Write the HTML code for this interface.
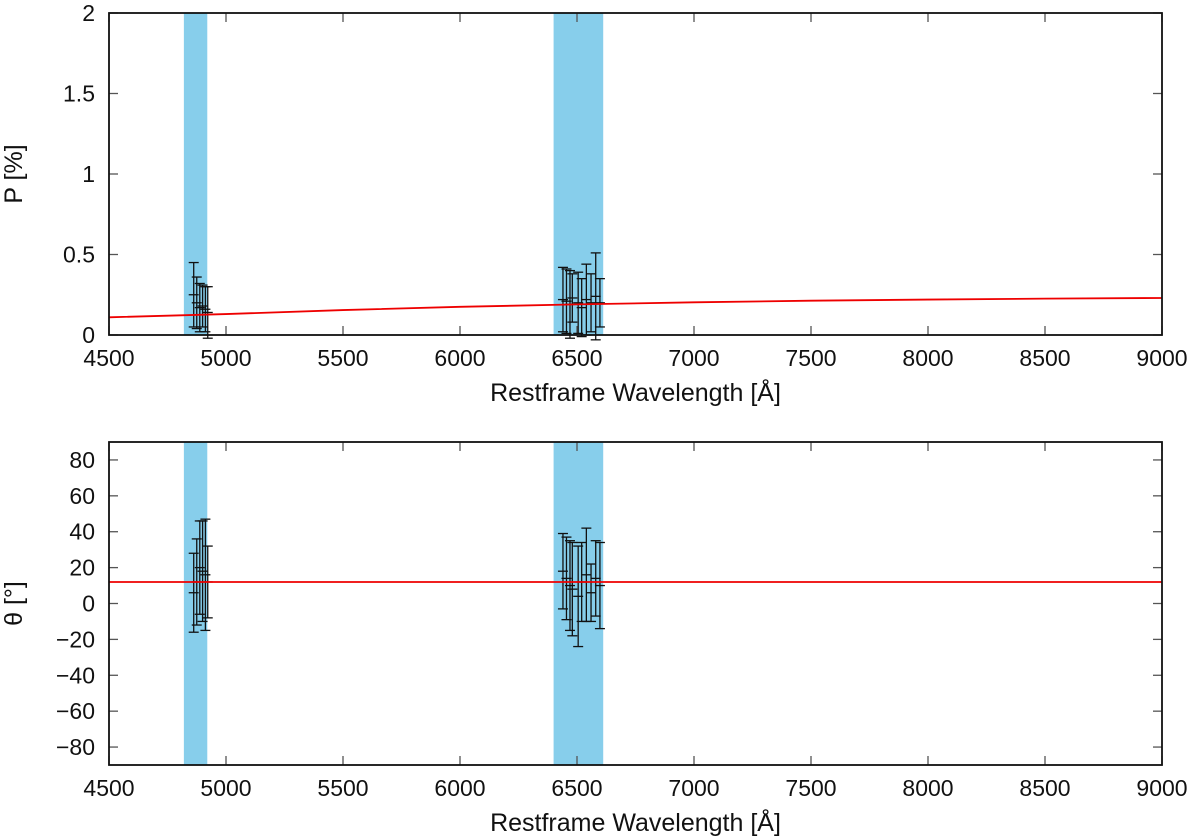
<!DOCTYPE html>
<html><head><meta charset="utf-8"><style>
html,body{margin:0;padding:0;background:#fff;}
svg{display:block;font-family:"Liberation Sans",sans-serif;}
</style></head><body>
<svg id="chart" width="1200" height="839" viewBox="0 0 1200 839"></svg>
<script>
const bands = [[4820,4920],[6400,6612]];
const lambdas = [4862,4875,4888,4900,4912,4922,6440,6455,6470,6480,6505,6520,6540,6560,6580,6598];
const pVals   = [0.25,0.20,0.17,0.18,0.16,0.14,0.22,0.21,0.19,0.23,0.20,0.17,0.22,0.20,0.24,0.20];
const pErrs   = [0.20,0.16,0.15,0.13,0.14,0.16,0.20,0.20,0.21,0.15,0.19,0.18,0.22,0.18,0.27,0.15];
const thVals  = [6,12,20,18,16,12,18,14,10,8,4,12,16,6,14,10];
const thErrs  = [22,24,26,28,31,20,21,23,25,26,28,22,26,16,21,24];
const fitLambda = [4500,5000,5500,6000,6500,7000,7500,8000,8500,9000];
const fitP = [0.11,0.13,0.155,0.175,0.19,0.203,0.213,0.22,0.226,0.23];
const fitTheta = 12;
const xTicks = [4500,5000,5500,6000,6500,7000,7500,8000,8500,9000];
const pTicks = [0,0.5,1,1.5,2];
const pTickLabels = ["0","0.5","1","1.5","2"];
const thTicks = [-80,-60,-40,-20,0,20,40,60,80];
const thTickLabels = ["\u221280","\u221260","\u221240","\u221220","0","20","40","60","80"];

const NS="http://www.w3.org/2000/svg";
const svg=document.getElementById('chart');
const L=109,R=1162;
const xs=v=>L+(v-4500)/(9000-4500)*(R-L);
function mk(tag,attrs,parent){const e=document.createElementNS(NS,tag);for(const k in attrs)e.setAttribute(k,attrs[k]);(parent||svg).appendChild(e);return e;}

function panel(name,top,bot,ymin,ymax,ticks,tickLabels,vals,errs,ylabel,fitFn){
  const ys=v=>bot-(v-ymin)/(ymax-ymin)*(bot-top);
  const g=mk('g',{});
  
  
  bands.forEach((b,i)=>{
    const r=mk('rect',{x:xs(b[0]),y:top,width:xs(b[1])-xs(b[0]),height:bot-top,fill:'#87ceeb'},g);
    
    
  });
  xTicks.forEach(t=>{
    const x=xs(t);
    mk('line',{x1:x,y1:bot,x2:x,y2:bot-9,stroke:'#555','stroke-width':1.3},g);
    mk('line',{x1:x,y1:top,x2:x,y2:top+9,stroke:'#555','stroke-width':1.3},g);
    const tx=mk('text',{x:x,y:bot+31,'font-size':23,'text-anchor':'middle',fill:'#111'},g);
    tx.textContent=t;
    
    
  });
  ticks.forEach((t,i)=>{
    const y=ys(t);
    mk('line',{x1:L,y1:y,x2:L+9,y2:y,stroke:'#555','stroke-width':1.3},g);
    mk('line',{x1:R,y1:y,x2:R-9,y2:y,stroke:'#555','stroke-width':1.3},g);
    const tx=mk('text',{x:L-14,y:y+8,'font-size':23,'text-anchor':'end',fill:'#111'},g);
    tx.textContent=tickLabels[i];
    
    
  });
  lambdas.forEach((lm,i)=>{
    const x=xs(lm),y1=ys(vals[i]+errs[i]),y2=ys(vals[i]-errs[i]);
    const eg=mk('g',{stroke:'#111','stroke-width':1.3},g);
    
    
    mk('line',{x1:x,y1:y1,x2:x,y2:y2},eg);
    mk('line',{x1:x-5,y1:y1,x2:x+5,y2:y1},eg);
    mk('line',{x1:x-5,y1:y2,x2:x+5,y2:y2},eg);
    mk('line',{x1:x-5,y1:ys(vals[i]),x2:x+5,y2:ys(vals[i])},eg);
  });
  const pts=fitLambda.map(lm=>xs(lm)+','+ys(fitFn(lm))).join(' ');
  const pl=mk('polyline',{points:pts,fill:'none',stroke:'#ee0000','stroke-width':1.8},g);
  
  
  const fr=mk('rect',{x:L,y:top,width:R-L,height:bot-top,fill:'none',stroke:'#111','stroke-width':1.8},g);
  
  
  const xt=mk('text',{x:(L+R)/2,y:bot+66,'font-size':25,'text-anchor':'middle',fill:'#111'},g);
  xt.textContent='Restframe Wavelength [Å]';
  
  
  const cy=(top+bot)/2;
  const yt=mk('text',{x:22,y:cy,'font-size':25,'text-anchor':'middle',fill:'#111',transform:'rotate(-90 22 '+cy+')'},g);
  yt.textContent=ylabel;
  
  
}
panel('p',13,335,0,2,pTicks,pTickLabels,pVals,pErrs,'P [%]',lm=>fitP[fitLambda.indexOf(lm)]);
panel('theta',442,765,-90,90,thTicks,thTickLabels,thVals,thErrs,'θ [°]',lm=>fitTheta);
</script>
</body></html>
